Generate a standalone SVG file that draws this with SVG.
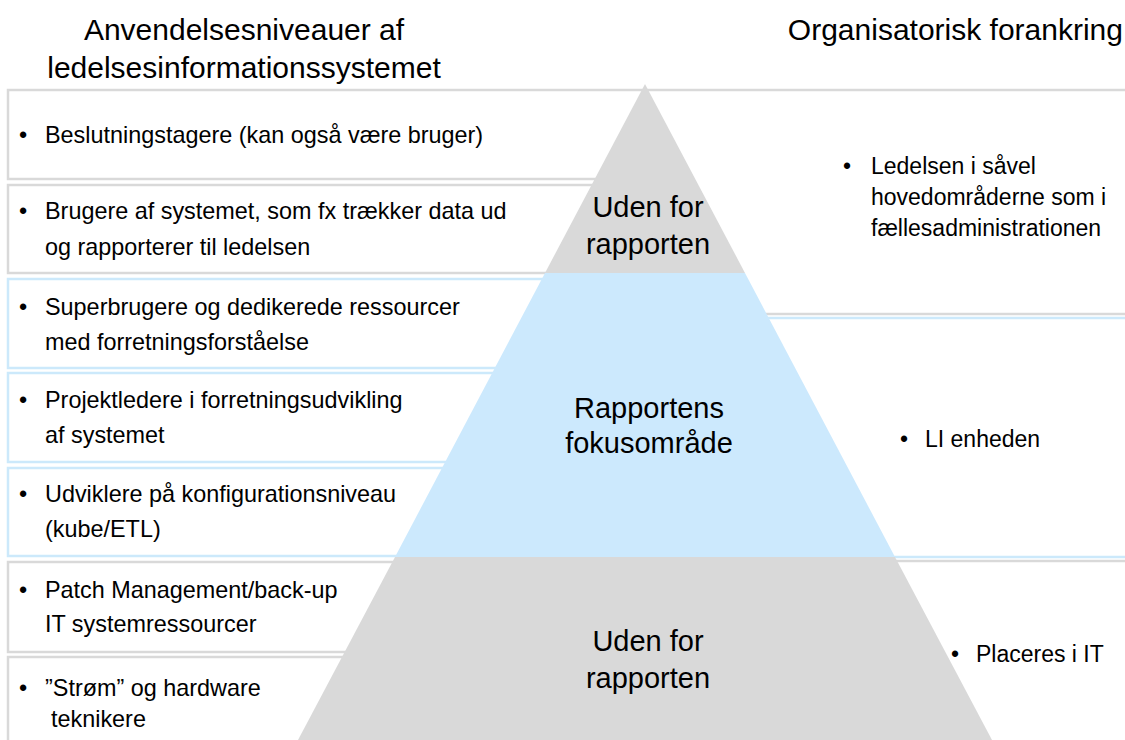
<svg xmlns="http://www.w3.org/2000/svg" width="1125" height="740" viewBox="0 0 1125 740">
<style>
  text { font-family: "Liberation Sans", Arial, Helvetica, sans-serif; fill: #000; }
  .title { font-size: 30px; }
  .body { font-size: 23px; }
  .lbody { font-size: 23.4px; }
  .pyr { font-size: 29px; text-anchor: middle; }
  .bgray { fill: none; stroke: #d9d9d9; stroke-width: 2.5; }
  .bblue { fill: none; stroke: #cce9fb; stroke-width: 2.5; }
  .fgray { fill: #d9d9d9; }
  .fblue { fill: #cce9fd; }
</style>
<rect width="1125" height="740" fill="#ffffff"/>

<g id="title-left">
  <text class="title" x="244" y="40" text-anchor="middle">Anvendelsesniveauer af</text>
  <text class="title" x="244" y="78" text-anchor="middle">ledelsesinformationssystemet</text>
</g>
<g id="title-right">
  <text class="title" x="1123" y="40" text-anchor="end">Organisatorisk forankring</text>
</g>

<g id="right-box-top">
  <path class="bgray" d="M645,90 H1130 M645,314 H1130"/>
  <text class="body" x="843" y="174">•</text>
  <text class="body" x="871" y="174">Ledelsen i såvel</text>
  <text class="body" x="871" y="205">hovedområderne som i</text>
  <text class="body" x="871" y="236">fællesadministrationen</text>
</g>
<g id="right-box-middle">
  <path class="bblue" d="M645,318 H1130 M645,557 H1130"/>
  <text class="body" x="900" y="447">•</text>
  <text class="body" x="925" y="447">LI enheden</text>
</g>
<g id="right-box-bottom">
  <path class="bgray" d="M645,561 H1130"/>
  <text class="body" x="951" y="662">•</text>
  <text class="body" x="976" y="662">Placeres i IT</text>
</g>

<g id="box-1">
  <path class="bgray" d="M645,90 H8 V179 H645"/>
  <text class="lbody" x="19" y="143">•</text>
  <text class="lbody" x="45" y="143">Beslutningstagere (kan også være bruger)</text>
</g>
<g id="box-2">
  <path class="bgray" d="M645,185 H8 V273 H645"/>
  <text class="lbody" x="19" y="219">•</text>
  <text class="lbody" x="45" y="219">Brugere af systemet, som fx trækker data ud</text>
  <text class="lbody" x="45" y="255">og rapporterer til ledelsen</text>
</g>
<g id="box-3">
  <path class="bblue" d="M645,279 H8 V368 H645"/>
  <text class="lbody" x="19" y="315">•</text>
  <text class="lbody" x="45" y="315">Superbrugere og dedikerede ressourcer</text>
  <text class="lbody" x="45" y="350">med forretningsforståelse</text>
</g>
<g id="box-4">
  <path class="bblue" d="M645,373 H8 V462 H645"/>
  <text class="lbody" x="19" y="408">•</text>
  <text class="lbody" x="45" y="408">Projektledere i forretningsudvikling</text>
  <text class="lbody" x="45" y="443">af systemet</text>
</g>
<g id="box-5">
  <path class="bblue" d="M645,468 H8 V556 H645"/>
  <text class="lbody" x="19" y="502">•</text>
  <text class="lbody" x="45" y="502">Udviklere på konfigurationsniveau</text>
  <text class="lbody" x="45" y="537">(kube/ETL)</text>
</g>
<g id="box-6">
  <path class="bgray" d="M645,562 H8 V652 H645"/>
  <text class="lbody" x="19" y="598">•</text>
  <text class="lbody" x="45" y="598">Patch Management/back-up</text>
  <text class="lbody" x="45" y="632">IT systemressourcer</text>
</g>
<g id="box-7">
  <path class="bgray" d="M645,657 H8 V745"/>
  <text class="lbody" x="19" y="696">•</text>
  <text class="lbody" x="45" y="696">”Strøm” og hardware</text>
  <text class="lbody" x="51" y="727">teknikere</text>
</g>

<g id="pyramid-top">
  <polygon class="fgray" points="645,84 745,273 545,273"/>
  <text class="pyr" x="648" y="217">Uden for</text>
  <text class="pyr" x="648" y="254">rapporten</text>
</g>
<g id="pyramid-middle">
  <polygon class="fblue" points="545,273 745,273 895,557 395,557"/>
  <text class="pyr" x="649" y="418">Rapportens</text>
  <text class="pyr" x="649" y="453">fokusområde</text>
</g>
<g id="pyramid-bottom">
  <polygon class="fgray" points="395,557 895,557 992,740 298,740"/>
  <text class="pyr" x="648" y="651">Uden for</text>
  <text class="pyr" x="648" y="688">rapporten</text>
</g>

<g id="connectors"/>
</svg>
